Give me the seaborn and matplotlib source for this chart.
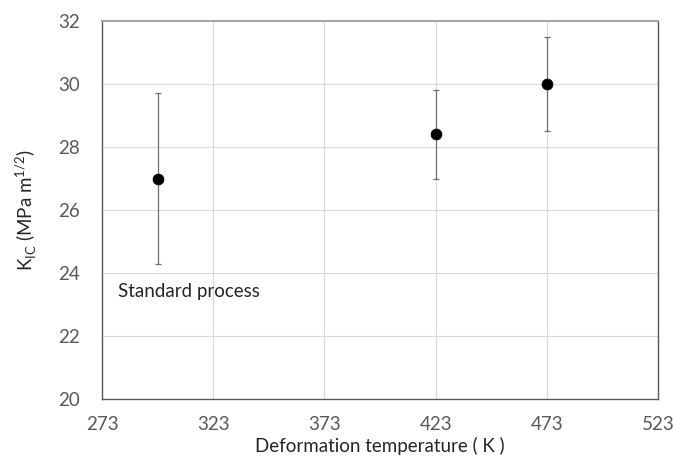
import numpy as np
import pandas as pd
import seaborn as sb
import matplotlib.pyplot as plt

# deformation temperature (K) and fracture toughness K_IC
temps = [298, 423, 473]
kic = [27.0, 28.4, 30.0]
err_low = [24.3, 27.0, 28.5]
err_high = [29.7, 29.8, 31.5]
xticks = [273, 323, 373, 423, 473, 523]
yticks = [20, 22, 24, 26, 28, 30, 32]

Data = pd.DataFrame({'T': temps, 'K': kic, 'lo': err_low, 'hi': err_high})

sb.set_style("white")
plt.rcParams['font.family'] = ['Lato', 'DejaVu Sans']
plt.rcParams['mathtext.fontset'] = 'custom'
plt.rcParams['mathtext.rm'] = 'Lato'

fig = plt.figure(figsize=(6.73, 4.57), dpi=100)
ax = fig.add_axes([102/673, 1 - 399/457, (658-102)/673, (399-21)/457])

yerr = np.array([Data['K'] - Data['lo'], Data['hi'] - Data['K']])
ax.errorbar(Data['T'], Data['K'], yerr=yerr, fmt='none', ecolor='#6e6e6e',
            elinewidth=0.9, capsize=2.2, capthick=0.9, zorder=2)
sb.scatterplot(data=Data, x='T', y='K', color='black', s=60, edgecolor='black',
               zorder=3, ax=ax, legend=False)

ax.set_xlim(273, 523)
ax.set_ylim(20, 32)
ax.set_xticks(xticks)
ax.set_yticks(yticks)
ax.grid(True, color='#d9d9d9', linewidth=0.8)
ax.set_axisbelow(True)
for side in ['left', 'bottom', 'right']:
    ax.spines[side].set_color('#595959')
    ax.spines[side].set_linewidth(1.0)
ax.spines['top'].set_color('#a6a6a6')
ax.spines['top'].set_linewidth(1.5)

ax.tick_params(axis='x', length=0, labelsize=13.5, labelcolor='#595959', pad=12)
ax.tick_params(axis='y', length=0, labelsize=13.5, labelcolor='#595959', pad=16)
ax.set_xlabel('Deformation temperature ( K )', fontsize=13.5, labelpad=3)
ax.set_ylabel('K$_{\\rm IC}$ (MPa m$^{1/2}$)', fontsize=13.5, labelpad=14)

ax.text(280, 23.4, 'Standard process', fontsize=13.5, va='center', ha='left')

fig.savefig('out.png', dpi=100)
plt.close(fig='all')
